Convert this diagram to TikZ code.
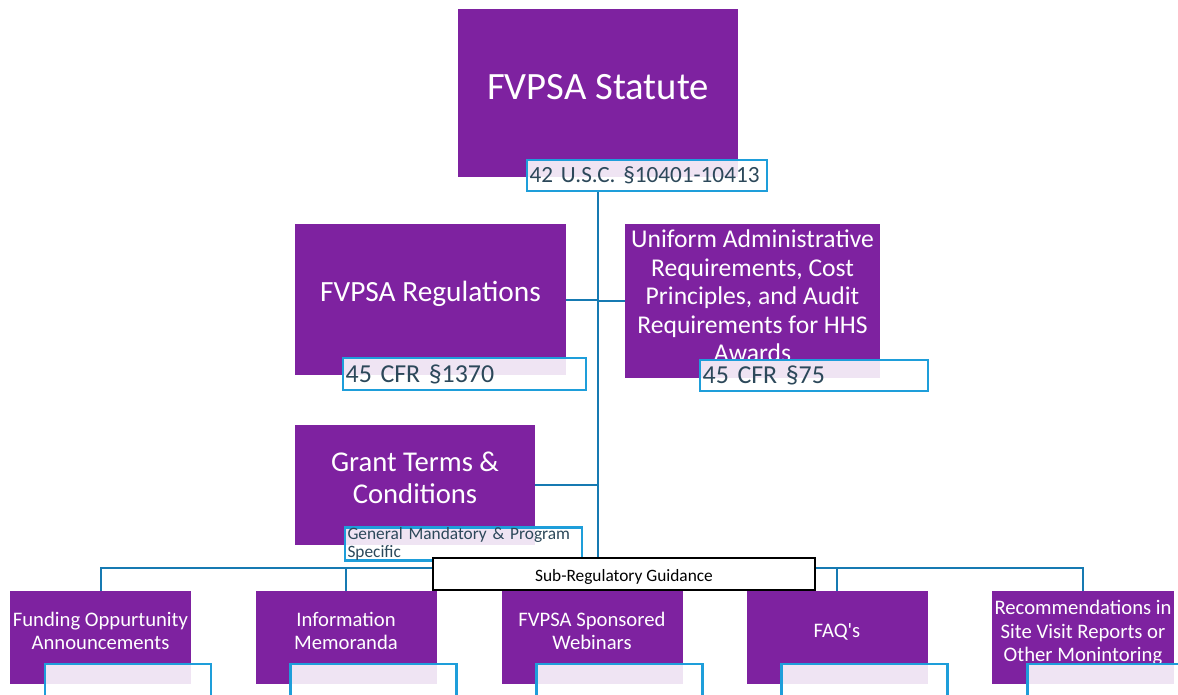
\documentclass[tikz,border=0pt]{standalone}
\usepackage{fontspec}
\setmainfont{Carlito}
\usepackage{tikz}
\usetikzlibrary{positioning}
\usepackage{xcolor}
\definecolor{fvpurple}{RGB}{126,34,160}
\definecolor{citeblue}{RGB}{30,158,218}
\definecolor{citetext}{RGB}{44,72,90}
\definecolor{linkblue}{RGB}{22,122,178}

\begin{document}
\begin{tikzpicture}[
    x=0.75pt, y=-0.75pt,
    purplebox/.style={rectangle, fill=fvpurple, text=white, align=center, inner sep=2pt},
    guidebox/.style={purplebox, minimum width=135.75pt, minimum height=69.75pt, text depth=10pt, font=\fontsize{15.5}{17.6}\selectfont},
    citebox/.style={rectangle, draw=citeblue, line width=1.9pt, fill=white, fill opacity=0.88, text opacity=1, text=citetext, align=left, inner xsep=2pt, inner ysep=0pt, minimum height=24pt},
    link/.style={draw=linkblue, line width=1.5pt}
]
    \clip (0,0) rectangle (1178,694);

    \node (statute) [purplebox, minimum width=210pt, minimum height=126pt, text depth=9pt, font=\fontsize{29}{34}\selectfont] at (598,93) {FVPSA Statute};
    \node (statlbl) [citebox, text width=176pt, minimum height=23.25pt, font=\fontsize{17.4}{21}\selectfont] at (647,175.5) {42 U.S.C. §10401-10413};

    \node (regs) [purplebox, minimum width=203.25pt, minimum height=113.25pt, text depth=12pt, font=\fontsize{22}{26}\selectfont] at (430.5,299.5) {FVPSA Regulations};
    \node (regslbl) [citebox, text width=178.25pt, font=\fontsize{19.4}{22}\selectfont] at (464.5,374) {45 CFR §1370};

    \node (uniform) [purplebox, minimum width=191.25pt, minimum height=115.5pt, text depth=8pt, font=\fontsize{19.2}{21.4}\selectfont] at (752.5,301) {Uniform Administrative\\Requirements, Cost\\Principles, and Audit\\Requirements for HHS\\Awards};
    \node (unilbl) [citebox, text width=167pt, minimum height=23.25pt, font=\fontsize{19.4}{22}\selectfont] at (814,375.5) {45 CFR §75};

    \node (grant) [purplebox, minimum width=180pt, minimum height=90pt, text depth=11pt, font=\fontsize{21.5}{23.5}\selectfont] at (415,485) {Grant Terms \&\\Conditions};
    \node (grantlbl) [citebox, text width=174pt, font=\fontsize{13}{13.5}\selectfont] at (463.5,544) {General Mandatory \& Program\\Specific};

    \node (foa) [guidebox] at (100.5,637.5) {Funding Oppurtunity\\Announcements};
    \node (memo) [guidebox] at (346,637.5) {Information\\Memoranda};
    \node (webinar) [guidebox] at (592,637.5) {FVPSA Sponsored\\Webinars};
    \node (faq) [guidebox] at (837,637.5) {FAQ\textquotesingle s};
    \node (recs) [guidebox] at (1083,637.5) {Recommendations in\\Site Visit Reports or\\Other Monintoring};
    \foreach \n in {foa, memo, webinar, faq, recs}
        \node (\n lbl) [citebox, text width=120.5pt] at ([xshift=20.6pt, yshift=-31.9pt]\n.center) {};

    \coordinate (trunk) at (598,568);
    \draw[link] (statlbl.south -| trunk) -- (trunk);
    \draw[link] (regs.east) -- (regs.east -| trunk);
    \draw[link] (uniform.west) -- (uniform.west -| trunk);
    \draw[link] (grant.east) -- (grant.east -| trunk);
    \draw[link] (foa.north) |- (trunk) -| (recs.north);
    \foreach \n in {memo, webinar, faq}
        \draw[link] (\n.north) -- (\n.north |- trunk);

    \node (subreg) [rectangle, draw=black, line width=1.1pt, fill=white, minimum width=286.5pt, minimum height=24pt, text height=13.5pt, text depth=3pt, font=\fontsize{13}{15}\selectfont] at (624,574) {Sub-Regulatory Guidance};
\end{tikzpicture}
\end{document}
